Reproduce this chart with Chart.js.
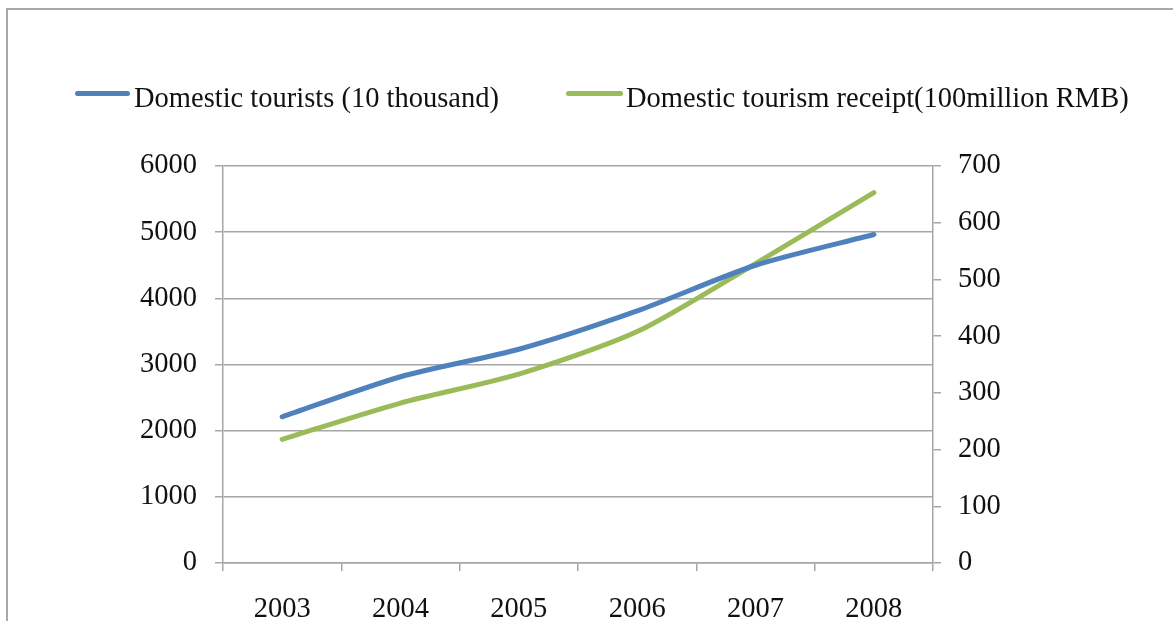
<!DOCTYPE html>
<html>
<head>
<meta charset="utf-8">
<script src="https://cdn.jsdelivr.net/npm/chart.js@4/dist/chart.umd.min.js"></script>
<style>
  html, body { margin: 0; padding: 0; background: #fff; overflow: hidden; }
  #wrap { position: relative; width: 1173px; height: 621px; }
  #frame { position: absolute; left: 6px; top: 8px; width: 1300px; height: 800px;
           border-top: 2px solid #a8a8a8; border-left: 2px solid #a8a8a8; }
  #chart { position: absolute; left: 0; top: 0; }
  .leg { position: absolute; font-family: "Liberation Serif", serif; font-size: 28.5px;
         line-height: 1; color: #111; white-space: nowrap; }
  .legline { position: absolute; height: 5px; border-radius: 2.5px; }
</style>
</head>
<body>
<div id="wrap">
  <div id="frame"></div>
  <canvas id="chart" width="1173" height="621"></canvas>
  <div id="legend"></div>
</div>
<script>
// ---- data ----
const years = ["2003", "2004", "2005", "2006", "2007", "2008"];
const touristsLabel = "Domestic tourists (10 thousand)";
const receiptLabel = "Domestic tourism receipt(100million RMB)";
const tourists = [2210, 2815, 3230, 3810, 4500, 4965];
const receipts = [218, 282, 333, 408, 528, 653];
const leftTicks = [0, 1000, 2000, 3000, 4000, 5000, 6000];
const rightTicks = [0, 100, 200, 300, 400, 500, 600, 700];

const blue = "#4F81BD";
const green = "#9BBB59";
const gridGray = "#a6a6a6";
const font = { family: "Liberation Serif", size: 28.5 };

// ---- legend (HTML text) ----
const legendItems = [
  { label: touristsLabel, color: blue, lineLeft: 75, lineWidth: 55, textLeft: 134 },
  { label: receiptLabel, color: green, lineLeft: 566, lineWidth: 57, textLeft: 626 }
];
const legendEl = document.getElementById("legend");
legendItems.forEach(it => {
  const l = document.createElement("div");
  l.className = "legline";
  l.style.left = it.lineLeft + "px";
  l.style.top = "91px";
  l.style.width = it.lineWidth + "px";
  l.style.background = it.color;
  legendEl.appendChild(l);
  const t = document.createElement("div");
  t.className = "leg";
  t.style.left = it.textLeft + "px";
  t.style.top = "84px";
  t.textContent = it.label;
  legendEl.appendChild(t);
});

const plain = v => String(v);

// ---- chart ----
new Chart(document.getElementById("chart"), {
  type: "line",
  data: {
    labels: years,
    datasets: [
      { label: touristsLabel, data: tourists, yAxisID: "y", borderColor: blue, backgroundColor: blue,
        borderWidth: 5, pointRadius: 0, tension: 0.25, borderCapStyle: "round", borderJoinStyle: "round" },
      { label: receiptLabel, data: receipts, yAxisID: "y1", borderColor: green, backgroundColor: green,
        borderWidth: 5, pointRadius: 0, tension: 0.25, borderCapStyle: "round", borderJoinStyle: "round" }
    ]
  },
  options: {
    responsive: false,
    animation: false,
    layout: { padding: { top: 166, left: 0, right: 0, bottom: 0 } },
    plugins: { legend: { display: false }, tooltip: { enabled: false } },
    scales: {
      x: {
        offset: true,
        grid: { offset: true, drawOnChartArea: false, drawTicks: true, tickLength: 8, color: gridGray, lineWidth: 1.5 },
        border: { display: true, color: gridGray, width: 1.5 },
        ticks: { font: font, color: "#111", padding: 21, maxRotation: 0 },
        afterFit: s => { s.height = 58; }
      },
      y: {
        position: "left",
        min: 0, max: 6000,
        afterBuildTicks: s => { s.ticks = leftTicks.map(v => ({ value: v })); },
        grid: { color: gridGray, lineWidth: 1.5, tickLength: 8 },
        border: { display: true, color: gridGray, width: 1.5 },
        ticks: { font: font, color: "#111", padding: 18, callback: plain },
        afterFit: s => { s.width = 223; }
      },
      y1: {
        position: "right",
        min: 0, max: 700,
        afterBuildTicks: s => { s.ticks = rightTicks.map(v => ({ value: v })); },
        grid: { drawOnChartArea: false, color: gridGray, lineWidth: 1.5, tickLength: 8 },
        border: { display: true, color: gridGray, width: 1.5 },
        ticks: { font: font, color: "#111", padding: 17, callback: plain },
        afterFit: s => { s.width = 240; }
      }
    }
  }
});
</script>
</body>
</html>
